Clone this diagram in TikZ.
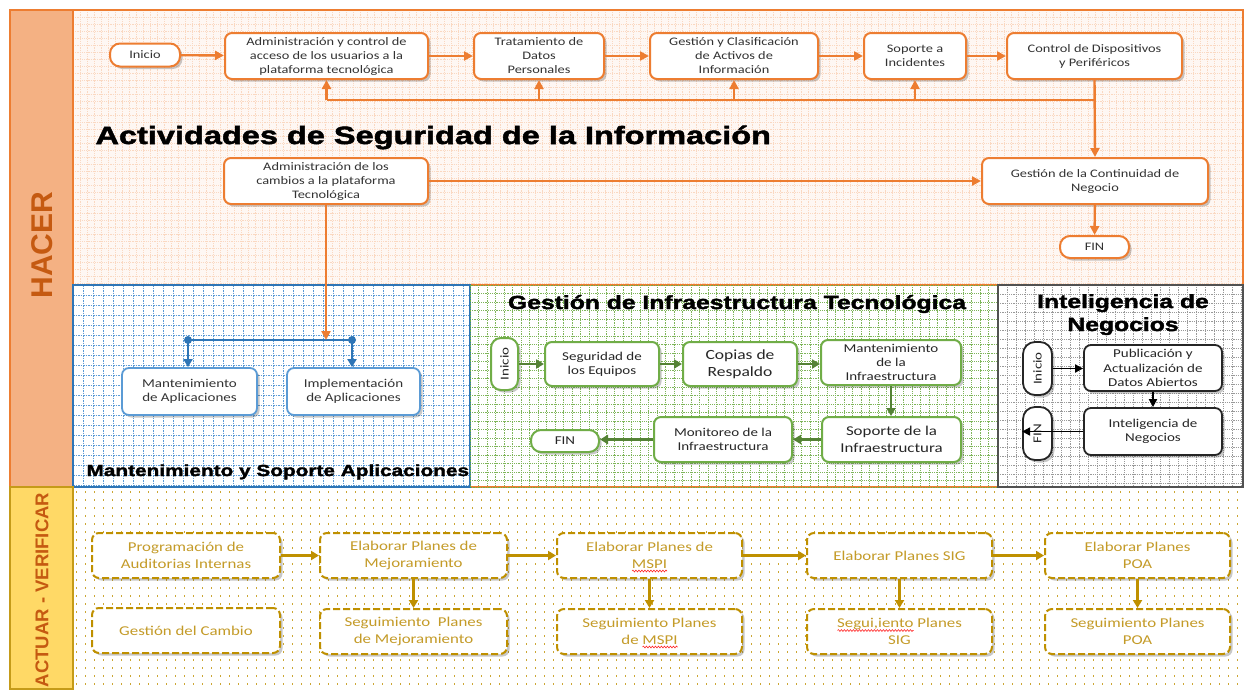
\documentclass[tikz,border=0pt]{standalone}
\usepackage{fontspec}
\setmainfont[FakeStretch=1.25]{Carlito}
\newfontfamily\heavyfont[FakeStretch=1.3,FakeBold=2]{Liberation Sans Bold}
\newfontfamily\lblfont{Liberation Sans Bold}
\usetikzlibrary{arrows.meta,shadows,decorations.pathmorphing}
\definecolor{orangeA}{HTML}{ED7D31}
\definecolor{salmon}{HTML}{F4B183}
\definecolor{hacertxt}{HTML}{C55A11}
\definecolor{yband}{HTML}{FFD966}
\definecolor{goldA}{HTML}{BF9000}
\definecolor{goldtxt}{RGB}{196,155,40}
\definecolor{blueA}{HTML}{2E75B6}
\definecolor{blueB}{HTML}{5B9BD5}
\definecolor{greenA}{HTML}{70AD47}
\definecolor{greenB}{HTML}{548235}
\definecolor{darkA}{HTML}{262626}
\tikzset{
  shad/.style={drop shadow={shadow xshift=2.5pt,shadow yshift=-2.5pt,opacity=0.3,fill=black!70}},
  obox/.style={draw=orangeA, line width=2pt, rounded corners=7pt, fill=white, align=center,
    inner sep=1pt, text=black!80, font=\fontsize{11.5}{14}\selectfont, shad},
  opill/.style={obox, rounded corners=10pt},
  bbox/.style={draw=blueB, line width=1.8pt, rounded corners=7pt, fill=white, align=center,
    inner sep=1pt, text=black!80, font=\fontsize{12}{14}\selectfont, shad},
  gbox/.style={draw=greenA, line width=2pt, rounded corners=7pt, fill=white, align=center,
    inner sep=1pt, text=black!85, font=\fontsize{12}{14}\selectfont, shad},
  gpill/.style={gbox, rounded corners=10pt},
  kbox/.style={draw=darkA, line width=1.8pt, rounded corners=7pt, fill=white, align=center,
    inner sep=1pt, text=black!85, font=\fontsize{12}{14.3}\selectfont, shad},
  kpill/.style={kbox, rounded corners=12pt},
  ybox/.style={draw=goldA, line width=2pt, dash pattern=on 7pt off 3pt, rounded corners=7pt, fill=white, align=center,
    inner sep=1pt, text=goldtxt, font=\fontsize{13.5}{17}\selectfont, shad},
  oarr/.style={draw=orangeA, line width=2.4pt, -{Triangle[length=9pt,width=9pt]}},
  oline/.style={draw=orangeA, line width=2.4pt},
  barr/.style={draw=blueA, line width=2.4pt, -{Triangle[length=8pt,width=9pt]}},
  garr/.style={draw=greenB, line width=2.4pt, -{Triangle[length=8pt,width=9pt]}},
  karr/.style={draw=black, line width=1.8pt, -{Triangle[length=8pt,width=8pt]}},
  yarr/.style={draw=goldA, line width=2.4pt, -{Triangle[length=8pt,width=9pt]}},
  gridor/.style={draw=orangeA!30, line width=0.4pt, dash pattern=on 1.2pt off 1pt},
  gridbl/.style={draw=blueB, line width=0.7pt, dash pattern=on 1.5pt off 1pt},
  gridgr/.style={draw=greenA!90, line width=0.6pt, dash pattern=on 1.2pt off 1pt},
  gridgy/.style={draw=black!40, line width=0.5pt, dash pattern=on 1.2pt off 1pt},
  dotsy/.style={draw=goldA!80, line width=1.3pt, dash pattern=on 1.2pt off 7.8pt},
  bigtitle/.style={font=\heavyfont\fontsize{25}{28}\selectfont, text=black, anchor=base west},
  squig/.style={draw=red!85, line width=0.6pt, decorate, decoration={snake, amplitude=0.9pt, segment length=3pt}},
}
\begin{document}
\begin{tikzpicture}[x=1pt,y=-1pt]
\useasboundingbox (0,0) rectangle (1244,689);
\fill[white] (0,0) rectangle (1244,689);
% ---------- backgrounds ----------
\fill[orangeA!6] (73,10) rectangle (1244,285);
\foreach \x in {80,87,...,1244} \draw[gridor] (\x,10) -- (\x,285);
\foreach \y in {17,24,...,285} \draw[gridor] (73,\y) -- (1244,\y);
% blue section
\foreach \x in {83,93,...,470} \draw[gridbl] (\x,285) -- (\x,487);
\foreach \y in {295,305,...,487} \draw[gridbl] (73,\y) -- (470,\y);
% green section
\foreach \x in {478.5,487,...,998} \draw[gridgr] (\x,285) -- (\x,487);
\foreach \y in {293.5,302,...,487} \draw[gridgr] (470,\y) -- (998,\y);
% gray section
\foreach \x in {1007,1016,...,1244} \draw[gridgy] (\x,285) -- (\x,487);
\foreach \y in {294,303,...,487} \draw[gridgy] (998,\y) -- (1244,\y);
% bottom dots
\foreach \y in {492,500,...,689} \draw[dotsy] (76,\y) -- (1244,\y);
% ---------- frames ----------
\draw[orangeA, line width=1.5pt, fill=salmon] (10,10) rectangle (73,487);
\draw[orangeA, line width=1.5pt] (10,10) rectangle (1243,487);
\draw[orangeA, line width=1.5pt] (73,285) -- (1243,285);
\draw[blueA, line width=1.2pt] (73,285) rectangle (470,487);
\draw[greenA, line width=1pt, dash pattern=on 1.5pt off 1pt] (470,285) rectangle (998,487);
\draw[darkA!80, line width=1.8pt] (998,285) rectangle (1243,487);
\draw[goldA!90, line width=1.5pt, fill=yband] (10,487) rectangle (73,689);
\node[rotate=90, font=\lblfont\fontsize{30}{30}\selectfont, text=hacertxt] (hacer) at (42,245) {HACER};
\node[rotate=90, font=\lblfont\fontsize{18.5}{18}\selectfont, text=hacertxt] (actuar) at (42,590) {ACTUAR - VERIFICAR};
% ---------- top: HACER ----------
\node[opill, minimum width=70pt, minimum height=23pt] (inicio) at (145,55) {Inicio};
\node[obox, minimum width=203pt, minimum height=46pt] (adm) at (326.5,56) {Administración y control de\\acceso de los usuarios a la\\plataforma tecnológica};
\node[obox, minimum width=130pt, minimum height=46pt] (trat) at (539,56) {Tratamiento de\\Datos\\Personales};
\node[obox, minimum width=168pt, minimum height=46pt] (gest) at (734,56) {Gestión y Clasificación\\de Activos de\\Información};
\node[obox, minimum width=102pt, minimum height=46pt] (sop) at (915,56) {Soporte a\\Incidentes};
\node[obox, minimum width=175pt, minimum height=46pt] (ctrl) at (1094.5,56) {Control de Dispositivos\\y Periféricos};
\node[bigtitle] (titulo) at (92,144) {Actividades de Seguridad de la Información};
\node[obox, minimum width=204pt, minimum height=46pt] (admc) at (326,181) {Administración de los\\cambios a la plataforma\\Tecnológica};
\node[obox, minimum width=226pt, minimum height=46pt] (cont) at (1095,181) {Gestión de la Continuidad de\\Negocio};
\node[opill, minimum width=69pt, minimum height=22pt] (fin1) at (1094.5,247) {FIN};
\coordinate (fb) at (1094.5,100);
\draw[oarr] (inicio) -- (adm);
\draw[oarr] (adm) -- (trat);
\draw[oarr] (trat) -- (gest);
\draw[oarr] (gest) -- (sop);
\draw[oarr] (sop) -- (ctrl);
\draw[oline] (adm.south |- fb) -- (fb);
\draw[oarr] (ctrl.south) -- (cont.north);
\draw[oarr] (adm.south |- fb) -- (adm.south);
\draw[oarr] (trat.south |- fb) -- (trat.south);
\draw[oarr] (gest.south |- fb) -- (gest.south);
\draw[oarr] (sop.south |- fb) -- (sop.south);
\draw[oarr] (admc) -- (cont);
\draw[oarr] (cont) -- (fin1);
% ---------- blue section ----------
\node[bbox, minimum width=135pt, minimum height=47pt] (mant) at (189.5,391.5) {Mantenimiento\\de Aplicaciones};
\node[bbox, minimum width=133pt, minimum height=47pt] (impl) at (353.5,391.5) {Implementación\\de Aplicaciones};
\coordinate (bl) at (188,340);
\coordinate (br) at (352,340);
\draw[blueA, line width=2.4pt] (bl) -- (br);
\draw[oarr] (admc.south) -- (admc.south |- bl);
\draw[barr] (bl) -- (bl |- mant.north);
\draw[barr] (br) -- (br |- impl.north);
\fill[blueA] (bl) circle (4pt);
\fill[blueA] (br) circle (4pt);
\node[font=\heavyfont\fontsize{16}{18}\selectfont, anchor=base west] (mlbl) at (83,476) {Mantenimiento y Soporte Aplicaciones};
% ---------- green section ----------
\node[font=\heavyfont\fontsize{19}{20}\selectfont, anchor=base] (gtitle) at (737,309) {Gestión de Infraestructura Tecnológica};
\node[gpill, rotate=90, minimum width=52pt, minimum height=27pt] (ini2) at (504.5,364) {Inicio};
\node[gbox, minimum width=114pt, minimum height=44pt] (seg) at (602,364) {Seguridad de\\los Equipos};
\node[gbox, minimum width=114pt, minimum height=44pt, font=\fontsize{14}{17}\selectfont] (cop) at (740,364) {Copias de\\Respaldo};
\node[gbox, minimum width=140pt, minimum height=45pt] (mnt) at (891,362.5) {Mantenimiento\\de la\\Infraestructura};
\node[gbox, minimum width=139pt, minimum height=45pt, font=\fontsize{13.5}{17}\selectfont] (sopi) at (891.5,439.5) {Soporte de la\\Infraestructura};
\node[gbox, minimum width=138pt, minimum height=45pt] (mon) at (723,439.5) {Monitoreo de la\\Infraestructura};
\node[gpill, minimum width=68pt, minimum height=22pt] (fin2) at (565,441) {FIN};
\draw[garr] (ini2.south) -- (ini2.south -| seg.west);
\draw[garr] (seg) -- (cop);
\draw[garr] (cop.east) -- (cop.east -| mnt.west);
\draw[garr] (mnt.south) -- (mnt.south |- sopi.north);
\draw[garr] (sopi) -- (mon);
\draw[garr] (mon.west) -- (mon.west -| fin2.east);
% ---------- gray section ----------
\node[font=\heavyfont\fontsize{19}{20}\selectfont, anchor=base] (ititle1) at (1123,308) {Inteligencia de};
\node[font=\heavyfont\fontsize{19}{20}\selectfont, anchor=base] (ititle2) at (1123,331) {Negocios};
\node[kpill, rotate=90, minimum width=53pt, minimum height=29pt] (ini3) at (1037.5,368.5) {Inicio};
\node[kbox, minimum width=138pt, minimum height=46pt] (pub) at (1153,368) {Publicación y\\Actualización de\\Datos Abiertos};
\node[kbox, minimum width=138pt, minimum height=47pt] (intn) at (1153,431.5) {Inteligencia de\\Negocios};
\node[kpill, rotate=90, minimum width=53pt, minimum height=29pt] (fin3) at (1037.5,433.5) {FIN};
\draw[karr] (ini3.south) -- (ini3.south -| pub.west);
\draw[karr] (pub.south) -- (pub.south |- intn.north);
\draw[karr] (intn.west) -- (intn.west -| fin3.north);
% ---------- bottom: ACTUAR - VERIFICAR ----------
\node[ybox, minimum width=188pt, minimum height=45pt] (prog) at (186,555.5) {Programación de\\Auditorias Internas};
\node[ybox, minimum width=188pt, minimum height=45pt] (gcam) at (186,630.5) {Gestión del Cambio};
\node[ybox, minimum width=187pt, minimum height=45pt] (elm) at (413.5,555.5) {Elaborar Planes de\\Mejoramiento};
\node[ybox, minimum width=187pt, minimum height=45pt] (sem) at (413.5,631.5) {Seguimiento\ \ Planes\\de Mejoramiento};
\node[ybox, minimum width=185pt, minimum height=45pt] (elmspi) at (649.5,555.5) {Elaborar Planes de\\MSPI};
\node[ybox, minimum width=185pt, minimum height=45pt] (semspi) at (649.5,631.5) {Seguimiento Planes\\de MSPI};
\node[ybox, minimum width=185pt, minimum height=45pt] (elsig) at (899.5,555.5) {Elaborar Planes SIG};
\node[ybox, minimum width=185pt, minimum height=45pt] (semsig) at (899.5,631.5) {Segui,iento Planes\\SIG};
\node[ybox, minimum width=185pt, minimum height=45pt] (elpoa) at (1137.5,555.5) {Elaborar Planes\\POA};
\node[ybox, minimum width=185pt, minimum height=45pt] (sempoa) at (1137.5,631.5) {Seguimiento Planes\\POA};
\draw[yarr] (prog) -- (elm);
\draw[yarr] (elm) -- (elmspi);
\draw[yarr] (elmspi) -- (elsig);
\draw[yarr] (elsig) -- (elpoa);
\draw[yarr] (elm) -- (sem);
\draw[yarr] (elmspi) -- (semspi);
\draw[yarr] (elsig) -- (semsig);
\draw[yarr] (elpoa) -- (sempoa);
% spell-check squiggles
\draw[squig] ([shift={(-17.5,15.5)}]elmspi.center) -- ([shift={(17.5,15.5)}]elmspi.center);
\draw[squig] ([shift={(-7,15.5)}]semspi.center) -- ([shift={(28,15.5)}]semspi.center);
\draw[squig] ([shift={(-62,-1)}]semsig.center) -- ([shift={(14,-1)}]semsig.center);
\end{tikzpicture}
\end{document}
